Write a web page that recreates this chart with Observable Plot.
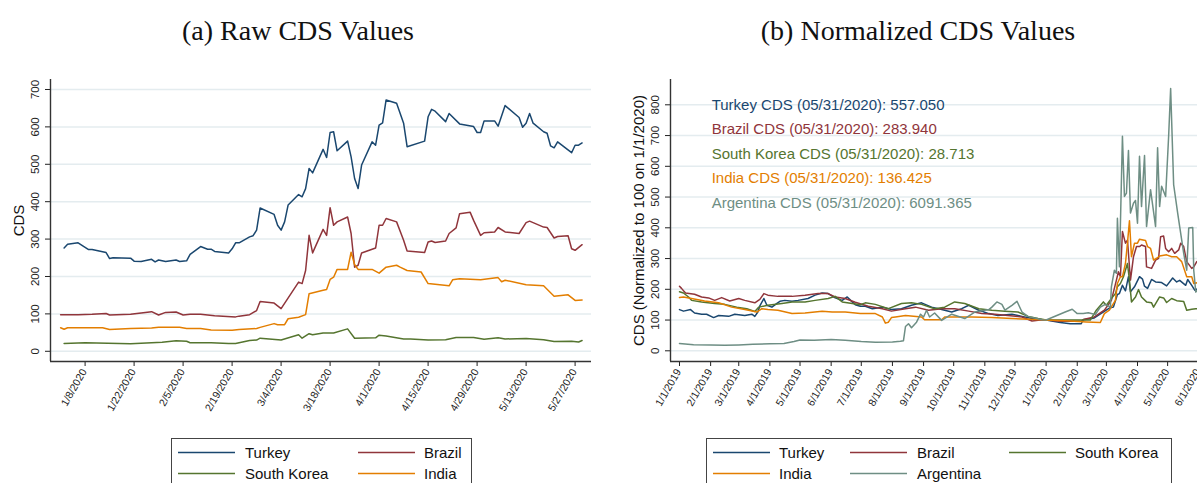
<!DOCTYPE html>
<html><head><meta charset="utf-8">
<script src="https://cdn.jsdelivr.net/npm/d3@7"></script>
<script src="https://cdn.jsdelivr.net/npm/@observablehq/plot@0.6"></script>
<style>
body{margin:0;background:#fff;}
#root{position:relative;width:1197px;height:483px;overflow:hidden;background:#fff;font-family:"Liberation Sans",Arial,sans-serif;}
.title{position:absolute;top:13px;font-family:"Liberation Serif",serif;font-size:28px;line-height:36px;text-align:center;color:#111;white-space:nowrap;}
.panel{position:absolute;top:0;height:420px;}
.panel svg{max-width:none !important;}
#legends{position:absolute;left:0;top:0;}
</style></head><body><div id="root"></div><script>
const countries = ["Turkey","Brazil","South Korea","India","Argentina"];
const colors = ["#1a476f","#90353b","#55752f","#e37e00","#6e8e84"];
const panelTitles = ["(a) Raw CDS Values","(b) Normalized CDS Values"];
const leftAxisTitle = "CDS";
const rightAxisTitle = "CDS (Normalized to 100 on 1/1/2020)";

// (a) raw CDS, 2020
const rawTurkey = [["2020-01-02",276],["2020-01-03",286],["2020-01-06",290],["2020-01-09",272],["2020-01-10",272],["2020-01-14",264],["2020-01-15",248],["2020-01-16",250],["2020-01-21",249],["2020-01-22",241],["2020-01-24",240],["2020-01-27",246],["2020-01-28",239],["2020-01-29",244],["2020-01-31",240],["2020-02-03",244],["2020-02-04",240],["2020-02-06",242],["2020-02-07",259],["2020-02-10",280],["2020-02-12",273],["2020-02-13",273],["2020-02-14",267],["2020-02-18",263],["2020-02-19",274],["2020-02-20",290],["2020-02-21",290],["2020-02-24",306],["2020-02-25",309],["2020-02-26",324],["2020-02-27",383],["2020-03-02",366],["2020-03-03",337],["2020-03-04",324],["2020-03-05",346],["2020-03-06",391],["2020-03-09",419],["2020-03-10",413],["2020-03-11",435],["2020-03-12",489],["2020-03-13",477],["2020-03-16",540],["2020-03-17",518],["2020-03-18",585],["2020-03-19",587],["2020-03-20",536],["2020-03-23",562],["2020-03-24",520],["2020-03-25",462],["2020-03-26",435],["2020-03-27",498],["2020-03-30",560],["2020-03-31",551],["2020-04-01",605],["2020-04-02",611],["2020-04-03",672],["2020-04-06",663],["2020-04-08",610],["2020-04-09",547],["2020-04-14",562],["2020-04-15",627],["2020-04-16",647],["2020-04-17",642],["2020-04-20",614],["2020-04-21",636],["2020-04-24",608],["2020-04-28",601],["2020-04-29",585],["2020-04-30",585],["2020-05-01",616],["2020-05-04",616],["2020-05-05",602],["2020-05-07",657],["2020-05-11",625],["2020-05-12",599],["2020-05-13",610],["2020-05-14",636],["2020-05-15",610],["2020-05-18",587],["2020-05-19",583],["2020-05-20",549],["2020-05-21",544],["2020-05-22",560],["2020-05-26",531],["2020-05-27",551],["2020-05-28",551],["2020-05-29",557]];
const rawBrazil = [["2020-01-01",98],["2020-01-06",98],["2020-01-10",99],["2020-01-14",101],["2020-01-15",97],["2020-01-21",99],["2020-01-27",106],["2020-01-29",97],["2020-01-31",104],["2020-02-03",105],["2020-02-05",97],["2020-02-07",99],["2020-02-10",99],["2020-02-14",95],["2020-02-20",92],["2020-02-21",94],["2020-02-24",98],["2020-02-26",109],["2020-02-27",133],["2020-03-02",129],["2020-03-04",114],["2020-03-09",185],["2020-03-10",181],["2020-03-11",216],["2020-03-12",310],["2020-03-13",263],["2020-03-16",326],["2020-03-17",310],["2020-03-18",384],["2020-03-19",337],["2020-03-20",346],["2020-03-23",359],["2020-03-24",315],["2020-03-25",225],["2020-03-26",230],["2020-03-27",263],["2020-03-31",276],["2020-04-01",337],["2020-04-02",337],["2020-04-03",355],["2020-04-06",346],["2020-04-08",297],["2020-04-09",268],["2020-04-14",264],["2020-04-15",292],["2020-04-16",295],["2020-04-17",291],["2020-04-20",295],["2020-04-21",315],["2020-04-23",330],["2020-04-24",368],["2020-04-27",372],["2020-04-28",350],["2020-04-30",310],["2020-05-01",317],["2020-05-04",319],["2020-05-05",331],["2020-05-07",319],["2020-05-11",315],["2020-05-13",344],["2020-05-14",348],["2020-05-18",332],["2020-05-19",331],["2020-05-21",303],["2020-05-22",307],["2020-05-25",309],["2020-05-26",274],["2020-05-27",270],["2020-05-29",285]];
const rawKorea = [["2020-01-02",21],["2020-01-08",23],["2020-01-21",20],["2020-01-30",24],["2020-02-03",28],["2020-02-06",27],["2020-02-07",23],["2020-02-13",23],["2020-02-18",21],["2020-02-20",21],["2020-02-24",29],["2020-02-26",30],["2020-02-27",35],["2020-03-04",30],["2020-03-09",44],["2020-03-10",35],["2020-03-12",47],["2020-03-13",44],["2020-03-16",49],["2020-03-19",49],["2020-03-23",60],["2020-03-25",35],["2020-03-31",36],["2020-04-01",43],["2020-04-03",41],["2020-04-08",33],["2020-04-10",33],["2020-04-15",30],["2020-04-20",31],["2020-04-23",37],["2020-04-28",37],["2020-05-01",32],["2020-05-05",36],["2020-05-07",33],["2020-05-13",34],["2020-05-18",31],["2020-05-21",26],["2020-05-26",27],["2020-05-28",25],["2020-05-29",29]];
const rawIndia = [["2020-01-01",63],["2020-01-02",59],["2020-01-03",63],["2020-01-13",63],["2020-01-15",58],["2020-01-21",61],["2020-01-27",62],["2020-01-29",64],["2020-02-04",64],["2020-02-06",61],["2020-02-10",61],["2020-02-13",57],["2020-02-19",56],["2020-02-21",58],["2020-02-26",61],["2020-02-27",64],["2020-03-02",74],["2020-03-03",71],["2020-03-05",71],["2020-03-06",87],["2020-03-09",91],["2020-03-11",98],["2020-03-12",154],["2020-03-16",163],["2020-03-17",165],["2020-03-18",192],["2020-03-19",198],["2020-03-20",219],["2020-03-23",219],["2020-03-24",265],["2020-03-25",232],["2020-03-26",219],["2020-03-30",219],["2020-04-01",209],["2020-04-03",225],["2020-04-06",230],["2020-04-07",225],["2020-04-09",216],["2020-04-13",212],["2020-04-15",181],["2020-04-21",175],["2020-04-22",191],["2020-04-24",194],["2020-04-30",191],["2020-05-05",197],["2020-05-06",186],["2020-05-07",190],["2020-05-13",178],["2020-05-18",175],["2020-05-21",147],["2020-05-25",151],["2020-05-27",136],["2020-05-29",137]];

// (b) normalized CDS, 2019-2020
const normTurkey = [["2019-01-01",134],["2019-01-05",129],["2019-01-12",134],["2019-01-16",123],["2019-01-23",119],["2019-01-28",119],["2019-02-04",108],["2019-02-09",115],["2019-02-19",112],["2019-02-25",119],["2019-03-07",115],["2019-03-14",119],["2019-03-17",112],["2019-03-20",126],["2019-03-22",146],["2019-03-26",170],["2019-03-29",148],["2019-04-03",142],["2019-04-08",154],["2019-04-11",161],["2019-04-16",164],["2019-04-23",161],["2019-04-29",164],["2019-05-09",170],["2019-05-16",181],["2019-05-23",188],["2019-05-29",186],["2019-06-05",172],["2019-06-12",164],["2019-06-17",175],["2019-06-22",159],["2019-06-25",150],["2019-06-30",145],["2019-07-05",145],["2019-07-12",137],["2019-07-22",142],["2019-07-31",134],["2019-08-10",137],["2019-08-20",148],["2019-08-30",156],["2019-09-09",142],["2019-09-19",134],["2019-09-29",126],["2019-10-09",137],["2019-10-16",148],["2019-10-26",132],["2019-11-05",121],["2019-11-14",115],["2019-11-28",119],["2019-12-08",112],["2019-12-18",105],["2019-12-28",101],["2020-01-01",100],["2020-01-15",92],["2020-01-25",88],["2020-02-05",88],["2020-02-07",101],["2020-02-18",107],["2020-02-28",128],["2020-03-04",139],["2020-03-08",142],["2020-03-12",183],["2020-03-14",186],["2020-03-17",213],["2020-03-20",195],["2020-03-23",241],["2020-03-25",192],["2020-03-29",208],["2020-04-03",241],["2020-04-06",233],["2020-04-08",210],["2020-04-11",203],["2020-04-15",232],["2020-04-19",224],["2020-04-25",222],["2020-04-30",211],["2020-05-06",237],["2020-05-10",224],["2020-05-13",229],["2020-05-19",213],["2020-05-21",232],["2020-05-25",213],["2020-05-28",197],["2020-05-31",202]];
const normBrazil = [["2019-01-01",210],["2019-01-03",203],["2019-01-07",188],["2019-01-16",184],["2019-01-23",175],["2019-01-30",172],["2019-02-05",164],["2019-02-12",173],["2019-02-20",162],["2019-03-01",170],["2019-03-07",164],["2019-03-17",156],["2019-03-22",167],["2019-03-26",186],["2019-03-30",181],["2019-04-09",177],["2019-04-23",177],["2019-05-06",181],["2019-05-19",186],["2019-05-29",186],["2019-06-05",175],["2019-06-15",170],["2019-06-25",158],["2019-07-08",145],["2019-07-22",137],["2019-07-31",129],["2019-08-14",137],["2019-08-24",142],["2019-09-06",132],["2019-09-19",137],["2019-10-02",137],["2019-10-16",129],["2019-10-29",121],["2019-11-11",119],["2019-11-24",115],["2019-12-08",110],["2019-12-18",97],["2019-12-28",101],["2020-01-01",100],["2020-01-15",96],["2020-02-05",96],["2020-02-07",102],["2020-02-18",110],["2020-02-28",132],["2020-03-06",164],["2020-03-11",230],["2020-03-13",257],["2020-03-15",241],["2020-03-17",388],["2020-03-20",350],["2020-03-22",360],["2020-03-25",230],["2020-03-28",306],["2020-03-31",339],["2020-04-03",339],["2020-04-05",344],["2020-04-09",339],["2020-04-10",273],["2020-04-15",268],["2020-04-19",295],["2020-04-22",301],["2020-04-24",371],["2020-04-27",373],["2020-04-29",333],["2020-05-02",322],["2020-05-05",333],["2020-05-08",317],["2020-05-12",328],["2020-05-14",350],["2020-05-17",339],["2020-05-20",290],["2020-05-25",268],["2020-05-27",273],["2020-05-30",290],["2020-05-31",287]];
const normKorea = [["2019-01-01",192],["2019-01-05",188],["2019-01-10",175],["2019-01-13",164],["2019-01-23",159],["2019-02-05",154],["2019-02-15",151],["2019-02-27",142],["2019-03-09",137],["2019-03-17",128],["2019-03-21",142],["2019-03-30",148],["2019-04-13",154],["2019-04-23",159],["2019-05-06",159],["2019-05-16",164],["2019-05-29",170],["2019-06-05",177],["2019-06-12",159],["2019-06-22",154],["2019-06-30",150],["2019-07-05",156],["2019-07-15",151],["2019-07-28",137],["2019-08-10",154],["2019-08-20",156],["2019-08-30",151],["2019-09-12",137],["2019-09-22",142],["2019-10-02",159],["2019-10-12",154],["2019-10-26",137],["2019-11-08",132],["2019-11-21",129],["2019-12-04",126],["2019-12-14",112],["2019-12-24",105],["2020-01-01",100],["2020-02-14",100],["2020-02-20",132],["2020-02-27",159],["2020-03-01",148],["2020-03-06",170],["2020-03-10",186],["2020-03-12",208],["2020-03-15",219],["2020-03-18",241],["2020-03-22",284],["2020-03-24",230],["2020-03-26",159],["2020-03-30",175],["2020-04-02",199],["2020-04-05",175],["2020-04-10",159],["2020-04-15",156],["2020-04-17",142],["2020-04-23",175],["2020-04-27",172],["2020-04-30",157],["2020-05-05",170],["2020-05-10",163],["2020-05-17",160],["2020-05-20",132],["2020-05-25",135],["2020-05-29",137],["2020-05-31",137]];
const normIndia = [["2019-01-01",173],["2019-01-05",175],["2019-01-13",170],["2019-01-26",162],["2019-02-09",156],["2019-02-22",142],["2019-03-07",134],["2019-03-19",126],["2019-03-24",137],["2019-03-30",134],["2019-04-09",132],["2019-04-23",121],["2019-05-06",123],["2019-05-23",129],["2019-06-02",126],["2019-06-15",126],["2019-06-30",121],["2019-07-15",121],["2019-07-22",110],["2019-07-25",90],["2019-07-28",93],["2019-07-31",108],["2019-08-04",110],["2019-08-14",115],["2019-08-30",110],["2019-09-02",101],["2019-09-19",101],["2019-09-22",110],["2019-10-19",110],["2019-11-08",108],["2019-11-28",105],["2019-12-28",101],["2020-01-01",100],["2020-01-25",97],["2020-02-10",94],["2020-02-24",92],["2020-02-28",121],["2020-03-04",132],["2020-03-10",164],["2020-03-12",219],["2020-03-15",241],["2020-03-17",241],["2020-03-20",284],["2020-03-22",350],["2020-03-24",423],["2020-03-26",306],["2020-03-29",350],["2020-04-01",350],["2020-04-03",363],["2020-04-09",359],["2020-04-11",339],["2020-04-14",333],["2020-04-17",295],["2020-04-20",301],["2020-04-23",308],["2020-04-30",312],["2020-05-05",306],["2020-05-10",306],["2020-05-15",290],["2020-05-20",241],["2020-05-25",241],["2020-05-27",219],["2020-05-30",221],["2020-05-31",220]];
const normArgentina = [["2019-01-01",24],["2019-01-15",20],["2019-02-01",19],["2019-02-15",18],["2019-03-01",19],["2019-03-15",21],["2019-04-01",23],["2019-04-15",24],["2019-04-25",30],["2019-05-01",35],["2019-05-15",34],["2019-06-01",37],["2019-06-15",34],["2019-07-01",30],["2019-07-15",28],["2019-08-01",29],["2019-08-09",31],["2019-08-12",33],["2019-08-14",79],["2019-08-17",88],["2019-08-20",75],["2019-08-25",93],["2019-08-29",119],["2019-09-01",110],["2019-09-04",132],["2019-09-07",110],["2019-09-12",123],["2019-09-19",99],["2019-09-29",119],["2019-10-12",105],["2019-10-22",126],["2019-11-05",134],["2019-11-08",142],["2019-11-13",159],["2019-11-18",151],["2019-11-21",132],["2019-11-28",148],["2019-12-03",161],["2019-12-08",126],["2019-12-14",112],["2019-12-28",101],["2020-01-01",100],["2020-01-20",126],["2020-01-27",135],["2020-02-01",121],["2020-02-07",121],["2020-02-12",124],["2020-02-19",118],["2020-02-24",142],["2020-02-29",151],["2020-03-05",142],["2020-03-06",208],["2020-03-09",262],["2020-03-11",252],["2020-03-12",431],["2020-03-14",273],["2020-03-17",698],["2020-03-19",502],["2020-03-21",513],["2020-03-23",651],["2020-03-25",448],["2020-03-28",480],["2020-03-30",489],["2020-04-01",415],["2020-04-03",633],["2020-04-05",469],["2020-04-08",635],["2020-04-10",404],["2020-04-14",524],["2020-04-19",404],["2020-04-21",660],["2020-04-23",469],["2020-04-25",535],["2020-04-29",502],["2020-05-02",698],["2020-05-04",853],["2020-05-07",540],["2020-05-11",448],["2020-05-13",404],["2020-05-17",317],["2020-05-20",262],["2020-05-22",399],["2020-05-26",401],["2020-05-27",262],["2020-05-29",191],["2020-05-30",195]];

const leftYTicks = [0,100,200,300,400,500,600,700];
const rightYTicks = [0,100,200,300,400,500,600,700,800];
const leftXTickLabels = ["1/8/2020","1/22/2020","2/5/2020","2/19/2020","3/4/2020","3/18/2020","4/1/2020","4/15/2020","4/29/2020","5/13/2020","5/27/2020"];
const rightXTickLabels = ["1/1/2019","2/1/2019","3/1/2019","4/1/2019","5/1/2019","6/1/2019","7/1/2019","8/1/2019","9/1/2019","10/1/2019","11/1/2019","12/1/2019","1/1/2020","2/1/2020","3/1/2020","4/1/2020","5/1/2020","6/1/2020"];
const annotationLabels = ["Turkey CDS (05/31/2020): 557.050","Brazil CDS (05/31/2020): 283.940","South Korea CDS (05/31/2020): 28.713","India CDS (05/31/2020): 136.425","Argentina CDS (05/31/2020): 6091.365"];
const annotationY = [800,720,640,560,480];
const annotationDate = "2019-02-02";

const parseTick = d3.utcParse("%m/%d/%Y");
const rows = s => s.map(([d, v]) => ({date: new Date(d), value: v}));
const gridColor = "#e4ecef";
const axisColor = "#333";
const font = "'Liberation Sans', Arial, sans-serif";

function panel({width, marginLeft, marginRight, xDomain, yDomain, yTicks, xTickLabels, series, extra, axisTitle}) {
  const xTicks = xTickLabels.map(parseTick);
  return Plot.plot({
    width, height: 420,
    marginLeft, marginRight, marginTop: 79, marginBottom: 59,
    style: {background: "transparent", fontFamily: font, overflow: "visible", color: "#222", maxWidth: "none"},
    x: {type: "utc", domain: xDomain, ticks: xTicks, tickFormat: () => "", tickSize: 5, label: null},
    y: {domain: yDomain, ticks: yTicks, tickFormat: () => "", tickSize: 5, label: null},
    marks: [
      Plot.ruleY(yTicks, {stroke: gridColor, strokeWidth: 1.5}),
      ...series.map((s, i) => Plot.line(rows(s), {x: "date", y: "value", stroke: colors[i], strokeWidth: 1.5})),
      ...extra,
      Plot.ruleX([xDomain[0]], {stroke: axisColor, strokeWidth: 1.4}),
      Plot.ruleY([yDomain[0]], {stroke: axisColor, strokeWidth: 1.4}),
      Plot.text(yTicks, {y: d => d, text: d => String(d), frameAnchor: "left", dx: -15, rotate: -90, fontSize: 11.5, textAnchor: "middle", fill: "#222"}),
      Plot.text(xTicks, {x: d => d, text: (d, i) => xTickLabels[i], frameAnchor: "bottom", dx: 2, dy: 10, rotate: -60, textAnchor: "end", fontSize: 10.5, fill: "#222"}),
      Plot.text([axisTitle], {frameAnchor: "left", dx: -31, rotate: -90, fontSize: 15, textAnchor: "middle", fill: "#111"})
    ]
  });
}

const root = document.getElementById("root");

const leftSvg = panel({
  width: 598, marginLeft: 50, marginRight: 7,
  xDomain: [new Date("2019-12-29T02:44Z"), new Date("2020-05-31T16:28Z")],
  yDomain: [-27.3, 726.7], yTicks: leftYTicks, xTickLabels: leftXTickLabels,
  series: [rawTurkey, rawBrazil, rawKorea, rawIndia], extra: [], axisTitle: leftAxisTitle
});
const rightSvg = panel({
  width: 620, marginLeft: 70, marginRight: 3,
  xDomain: [new Date("2018-12-23T01:00Z"), new Date("2020-06-19T15:36Z")],
  yDomain: [-34.8, 882.3], yTicks: rightYTicks, xTickLabels: rightXTickLabels,
  series: [normTurkey, normBrazil, normKorea, normIndia, normArgentina],
  extra: annotationLabels.map((t, i) => Plot.text([t], {x: () => new Date(annotationDate), y: () => annotationY[i], text: d => d, fill: colors[i], textAnchor: "start", fontSize: 15})),
  axisTitle: rightAxisTitle
});

function place(el, left, width) {
  const w = document.createElement("div");
  w.className = "panel"; w.style.left = left + "px"; w.style.width = width + "px";
  el.style.maxWidth = "none";
  w.appendChild(el); root.appendChild(w);
}
place(leftSvg, 0, 598);
place(rightSvg, 600, 620);

[[panelTitles[0], 298], [panelTitles[1], 918]].forEach(([t, cx]) => {
  const d = document.createElement("div");
  d.className = "title"; d.textContent = t;
  d.style.left = (cx - 200) + "px"; d.style.width = "400px";
  root.appendChild(d);
});

// legends (drawn below the plots)
const lg = d3.select(root).append("svg").attr("id", "legends").attr("width", 1197).attr("height", 483)
  .style("font-family", font);
function legend(box, items, sampleX, textX, rowsY) {
  lg.append("rect").attr("x", box[0] + 0.5).attr("y", box[1] + 0.5).attr("width", box[2]).attr("height", 80)
    .attr("fill", "#fff").attr("stroke", "#444").attr("stroke-width", 1);
  const ncol = sampleX.length;
  items.forEach((idx, k) => {
    const c = k % ncol, r = Math.floor(k / ncol);
    lg.append("line").attr("x1", sampleX[c]).attr("x2", sampleX[c] + 57)
      .attr("y1", rowsY[r]).attr("y2", rowsY[r]).attr("stroke", colors[idx]).attr("stroke-width", 1.6);
    lg.append("text").attr("x", textX[c]).attr("y", rowsY[r]).attr("dy", "0.35em")
      .attr("font-size", 15).attr("fill", "#111").text(countries[idx]);
  });
}
legend([171, 438, 300], [0, 1, 2, 3], [178, 358], [245, 424], [452.5, 473.5]);
legend([706, 438, 465], [0, 1, 2, 3, 4], [713, 850, 1009], [779, 917, 1075], [452.5, 473.5]);
</script></body></html>
